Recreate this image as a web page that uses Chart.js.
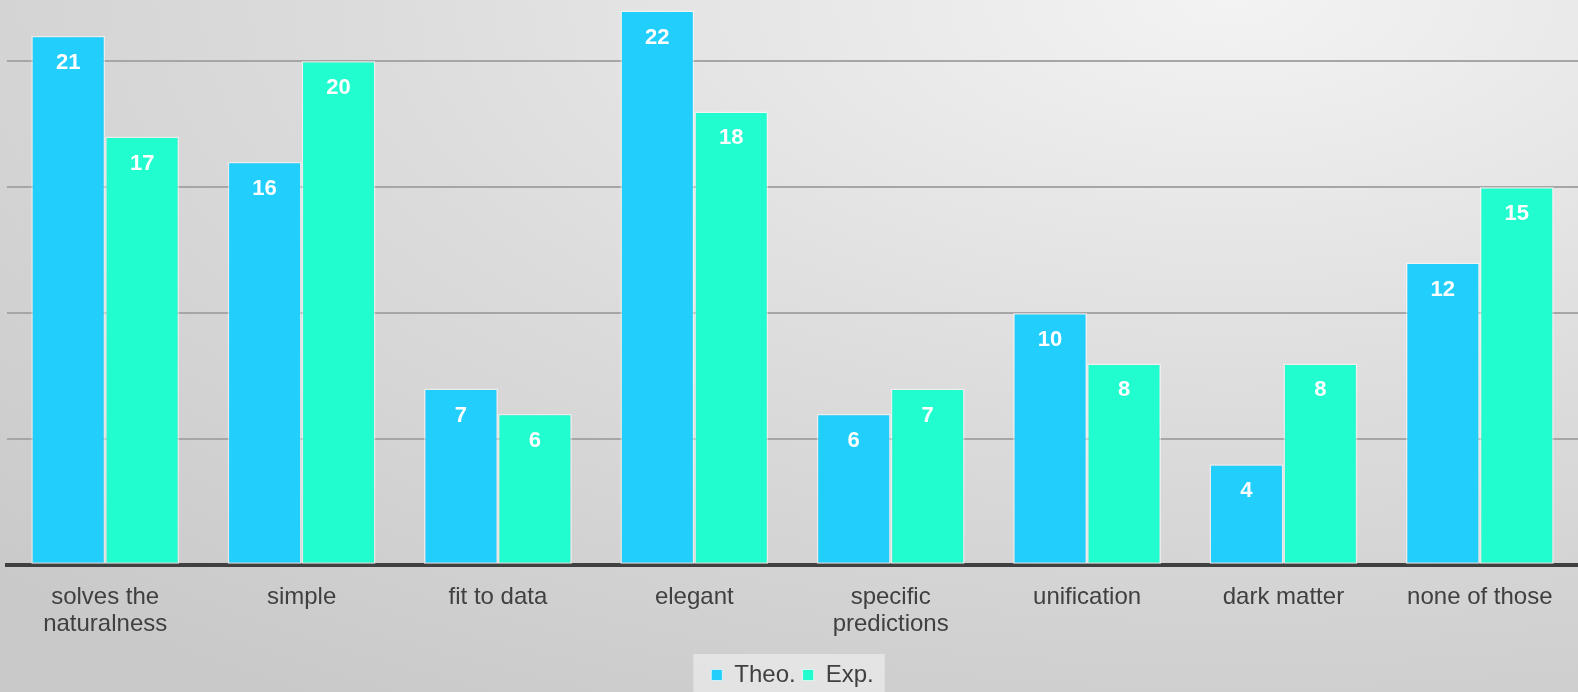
<!DOCTYPE html>
<html>
<head>
<meta charset="utf-8">
<script src="https://cdn.jsdelivr.net/npm/chart.js@4"></script>
<style>
  html, body { margin: 0; padding: 0; }
  body {
    width: 1578px; height: 692px; overflow: hidden;
    background: radial-gradient(ellipse 110% 120% at 78% 0%, #f3f3f3 0%, #dcdcdc 50%, #c9c9c9 100%);
  }
  #wrap { position: relative; width: 1578px; height: 692px; }
</style>
</head>
<body>
<div id="wrap"><canvas id="surveyChart"></canvas></div>
<script>
const categories = [
    ['solves the', 'naturalness'], 'simple', 'fit to data', 'elegant',
    ['specific', 'predictions'], 'unification', 'dark matter', 'none of those'
];
const theoValues = [21, 16, 7, 22, 6, 10, 4, 12];
const expValues = [17, 20, 6, 18, 7, 8, 8, 15];
const gridTicks = [5, 10, 15, 20];

const textColor = '#404040';
const fontFamily = '"Liberation Sans", Arial, sans-serif';
const plotBottom = 565;
const legendShift = 5;

// white numbers inside the top of each bar
const barLabels = {
    id: 'barLabels',
    afterDatasetsDraw(chart) {
        const ctx = chart.ctx;
        ctx.save();
        ctx.font = 'bold 22px ' + fontFamily;
        ctx.fillStyle = '#ffffff';
        ctx.textAlign = 'center';
        ctx.textBaseline = 'middle';
        chart.data.datasets.forEach((ds, i) => {
            chart.getDatasetMeta(i).data.forEach((bar, j) => {
                ctx.fillText(String(ds.data[j]), bar.x, bar.y + 27);
            });
        });
        ctx.restore();
    }
};

// light box behind the legend
const legendBox = {
    id: 'legendBox',
    beforeDraw(chart) {
        const boxes = chart.legend && chart.legend.legendHitBoxes;
        if (!boxes || !boxes.length) return;
        const left = Math.min(...boxes.map(b => b.left)) - 18;
        const right = Math.max(...boxes.map(b => b.left + b.width)) + 11;
        const mid = boxes[0].top + boxes[0].height / 2;
        const top = mid - 21;
        const ctx = chart.ctx;
        ctx.save();
        ctx.fillStyle = 'rgba(236,236,236,0.7)';
        ctx.fillRect(left, top, right - left, chart.height - top);
        ctx.restore();
    }
};

new Chart(document.getElementById('surveyChart'), {
    type: 'bar',
    data: {
        labels: categories,
        datasets: [
            {
                label: 'Theo.',
                data: theoValues,
                backgroundColor: '#22cffc',
                borderColor: 'rgba(255,255,255,0.5)',
                borderWidth: 1.5,
                borderSkipped: false
            },
            {
                label: 'Exp.',
                data: expValues,
                backgroundColor: '#22fdd0',
                borderColor: 'rgba(255,255,255,0.5)',
                borderWidth: 1.5,
                borderSkipped: false
            }
        ]
    },
    options: {
        responsive: true,
        maintainAspectRatio: false,
        animation: false,
        layout: { padding: { top: 0, left: 7, right: 0, bottom: -legendShift } },
        datasets: { bar: { categoryPercentage: 0.753, barPercentage: 1.0 } },
        plugins: {
            legend: {
                position: 'bottom',
                labels: {
                    color: textColor,
                    font: { size: 24, family: fontFamily, lineHeight: 1 },
                    boxWidth: 11,
                    boxHeight: 11,
                    padding: 7,
                    generateLabels(chart) {
                        return chart.data.datasets.map((ds, i) => ({
                            text: ds.label,
                            fillStyle: ds.backgroundColor,
                            strokeStyle: 'rgba(255,255,255,0.6)',
                            lineWidth: 1,
                            fontColor: textColor,
                            datasetIndex: i
                        }));
                    }
                }
            },
            tooltip: { enabled: false }
        },
        scales: {
            x: {
                z: 1,
                grid: { display: false },
                border: { display: true, color: '#404040', width: 4 },
                ticks: {
                    color: textColor,
                    padding: 11,
                    maxRotation: 0,
                    autoSkip: false,
                    font: { size: 24, family: fontFamily, lineHeight: 1.12 }
                },
                afterFit(scale) {
                    const legendH = scale.chart.legend ? scale.chart.legend.height : 0;
                    scale.height = scale.chart.height + legendShift - plotBottom - legendH;
                }
            },
            y: {
                min: 0,
                max: 22.42,
                border: { display: false },
                ticks: { display: false, stepSize: 5 },
                grid: {
                    drawTicks: false,
                    lineWidth: 2,
                    color: (ctx) => gridTicks.includes(ctx.tick && ctx.tick.value) ? '#a6a6a6' : 'rgba(0,0,0,0)'
                }
            }
        }
    },
    plugins: [legendBox, barLabels]
});
</script>
</body>
</html>
